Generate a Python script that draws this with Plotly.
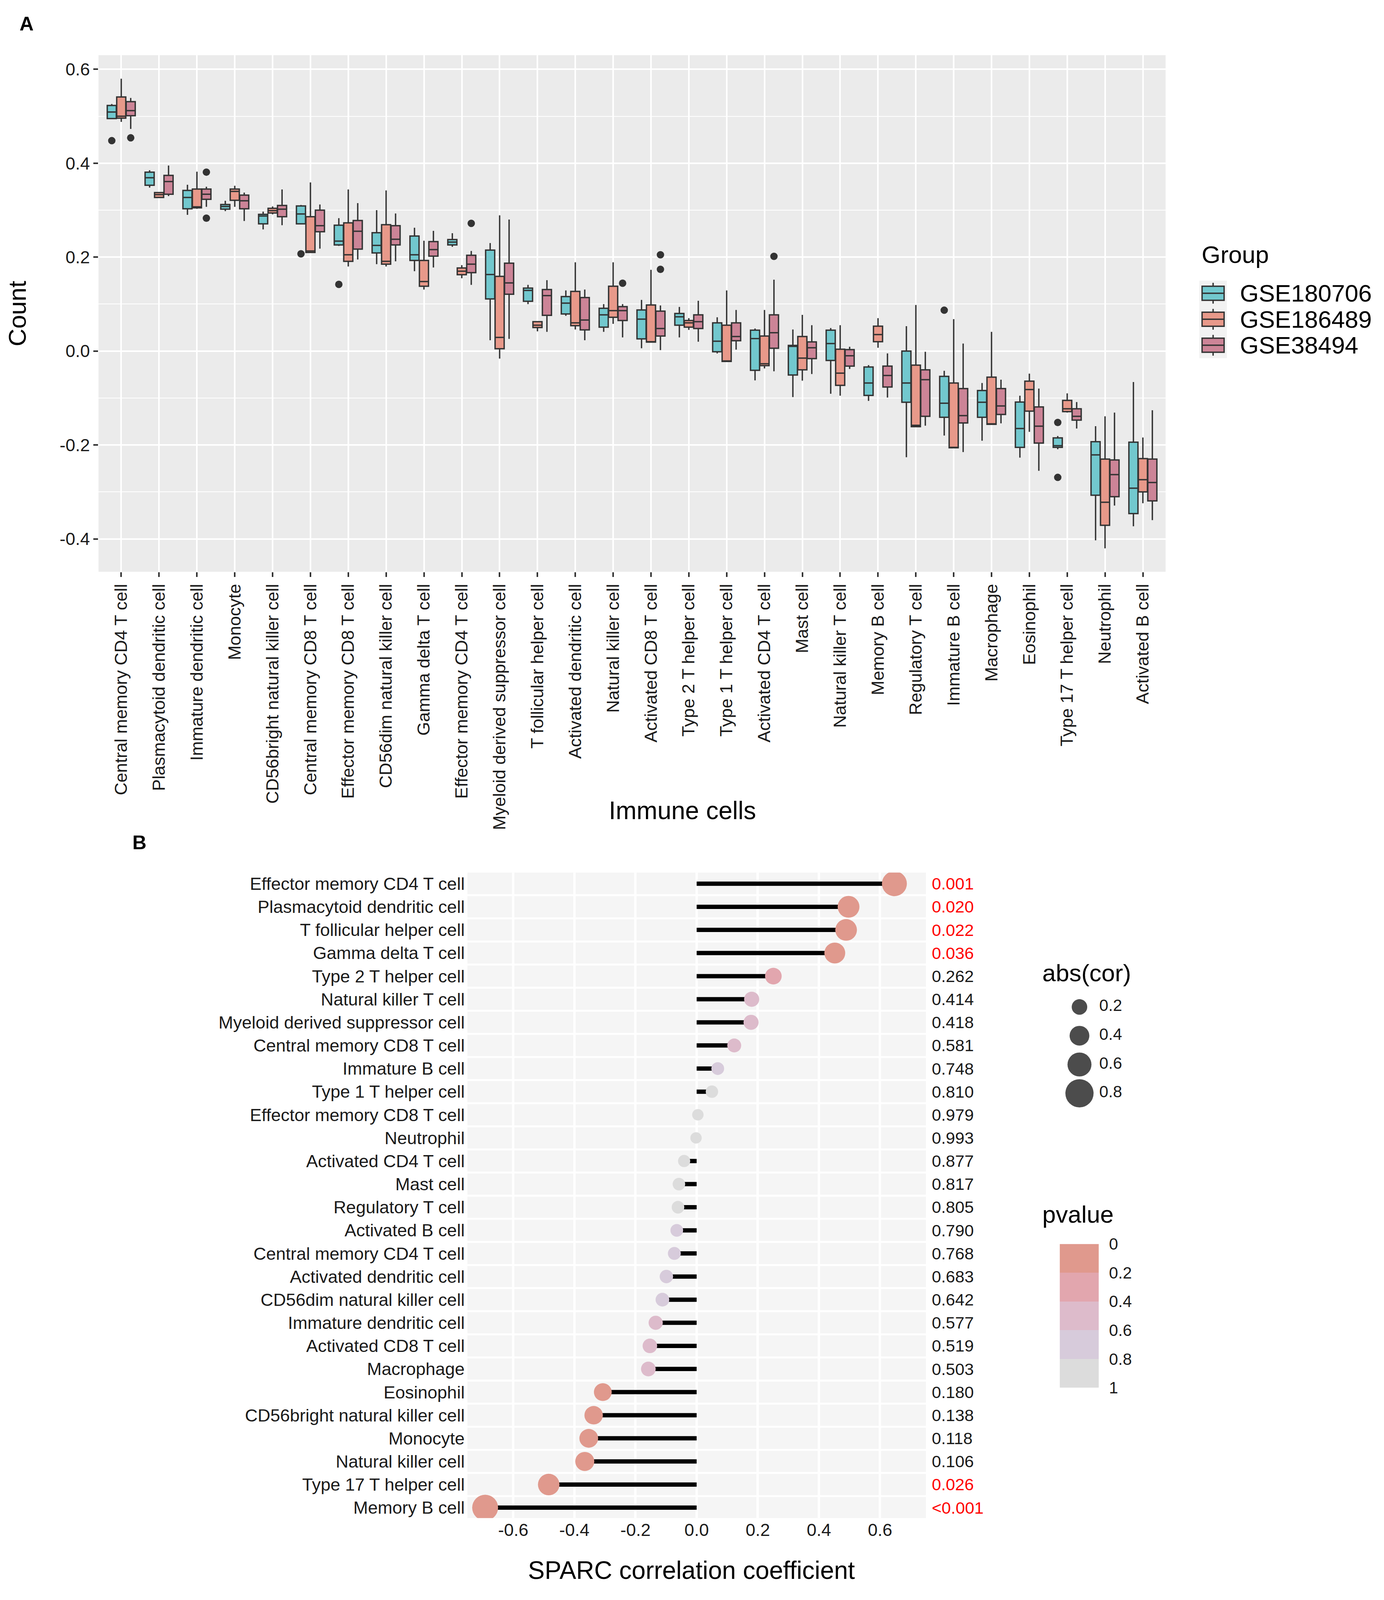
import plotly.graph_objects as go

# reference canvas (positions are fractions of it) and drawn figure size
W, H = 3544, 4242
FIG_W, FIG_H = 3520, 4080
FONT = "Liberation Sans, Arial, sans-serif"
INK = "#1a1a1a"

# ---------------- panel A data: immune cell scores per dataset
cells_a = [
    "Central memory CD4 T cell", "Plasmacytoid dendritic cell", "Immature dendritic cell",
    "Monocyte", "CD56bright natural killer cell", "Central memory CD8 T cell",
    "Effector memory CD8 T cell", "CD56dim natural killer cell", "Gamma delta T cell",
    "Effector memory CD4 T cell", "Myeloid derived suppressor cell", "T follicular helper cell",
    "Activated dendritic cell", "Natural killer cell", "Activated CD8 T cell",
    "Type 2 T helper cell", "Type 1 T helper cell", "Activated CD4 T cell", "Mast cell",
    "Natural killer T cell", "Memory B cell", "Regulatory T cell", "Immature B cell",
    "Macrophage", "Eosinophil", "Type 17 T helper cell", "Neutrophil", "Activated B cell",
]
groups = ["GSE180706", "GSE186489", "GSE38494"]

# GSE180706
q1_180706 = [0.495, 0.353, 0.303, 0.302, 0.271, 0.271, 0.226, 0.209, 0.193, 0.226, 0.111, 0.106, 0.079, 0.051,
             0.026, 0.055, -0.0015, -0.041, -0.051, -0.020, -0.0945, -0.109, -0.141, -0.141, -0.205, -0.205,
             -0.307, -0.346]
med_180706 = [0.509, 0.369, 0.327, 0.308, 0.2875, 0.292, 0.234, 0.225, 0.205, 0.232, 0.163, 0.129, 0.102, 0.077,
              0.068, 0.073, 0.021, 0.0265, 0.010, 0.016, -0.068, -0.068, -0.111, -0.109, -0.165, -0.2016,
              -0.221, -0.292]
q3_180706 = [0.523, 0.381, 0.342, 0.312, 0.291, 0.309, 0.268, 0.252, 0.245, 0.2375, 0.215, 0.134, 0.116, 0.091,
             0.0875, 0.080, 0.060, 0.0445, 0.012, 0.0445, -0.034, 0.0, -0.054, -0.084, -0.1086, -0.185,
             -0.193, -0.194]
lo_180706 = [0.495, 0.348, 0.290, 0.298, 0.259, 0.271, 0.224, 0.185, 0.170, 0.222, 0.023, 0.100, 0.075, 0.041,
             0.006, 0.029, -0.005, -0.0625, -0.098, -0.091, -0.106, -0.226, -0.180, -0.191, -0.227, -0.209,
             -0.403, -0.373]
hi_180706 = [0.526, 0.385, 0.354, 0.320, 0.297, 0.311, 0.283, 0.300, 0.2625, 0.251, 0.230, 0.141, 0.129, 0.100,
             0.109, 0.094, 0.072, 0.048, 0.046, 0.049, -0.030, 0.053, -0.042, -0.068, -0.095, -0.181,
             -0.160, -0.066]
out_cat_180706 = [1, 6, 7, 23, 26, 26]
out_val_180706 = [0.448, 0.207, 0.142, 0.087, -0.152, -0.269]

# GSE186489
q1_186489 = [0.496, 0.327, 0.305, 0.321, 0.294, 0.210, 0.191, 0.185, 0.138, 0.1625, 0.005, 0.050, 0.054, 0.072,
             0.019, 0.051, -0.022, -0.031, -0.040, -0.073, 0.020, -0.161, -0.206, -0.156, -0.128, -0.129,
             -0.371, -0.300]
med_186489 = [0.500, 0.333, 0.307, 0.340, 0.299, 0.213, 0.205, 0.191, 0.148, 0.170, 0.029, 0.055, 0.060, 0.086,
              0.020, 0.060, -0.021, -0.027, -0.015, -0.047, 0.035, -0.158, -0.205, -0.155, -0.082, -0.123,
              -0.322, -0.274]
q3_186489 = [0.541, 0.3375, 0.345, 0.345, 0.304, 0.286, 0.273, 0.269, 0.193, 0.177, 0.159, 0.0625, 0.127, 0.138,
             0.098, 0.065, 0.055, 0.032, 0.031, 0.004, 0.053, -0.030, -0.068, -0.0555, -0.064, -0.105,
             -0.230, -0.229]
lo_186489 = [0.488, 0.326, 0.303, 0.307, 0.291, 0.209, 0.180, 0.180, 0.131, 0.155, -0.016, 0.042, 0.046, 0.058,
             0.018, 0.045, -0.023, -0.037, -0.063, -0.095, 0.007, -0.1625, -0.207, -0.157, -0.172, -0.131,
             -0.420, -0.324]
hi_186489 = [0.580, 0.339, 0.382, 0.352, 0.308, 0.359, 0.344, 0.342, 0.235, 0.183, 0.289, 0.064, 0.189, 0.189,
             0.173, 0.070, 0.129, 0.0875, 0.077, 0.055, 0.070, 0.098, 0.068, 0.041, -0.048, -0.090,
             -0.139, -0.184]
out_cat_186489 = []
out_val_186489 = []

# GSE38494
q1_38494 = [0.501, 0.334, 0.323, 0.303, 0.286, 0.254, 0.217, 0.226, 0.202, 0.167, 0.121, 0.076, 0.045, 0.065,
            0.032, 0.048, 0.022, 0.006, -0.016, -0.032, -0.0766, -0.139, -0.153, -0.135, -0.196, -0.147,
            -0.310, -0.319]
med_38494 = [0.512, 0.361, 0.334, 0.320, 0.302, 0.267, 0.255, 0.238, 0.216, 0.185, 0.145, 0.118, 0.066, 0.086,
             0.048, 0.0625, 0.031, 0.039, 0.007, -0.010, -0.052, -0.061, -0.1375, -0.117, -0.160, -0.139,
             -0.263, -0.280]
q3_38494 = [0.531, 0.374, 0.345, 0.332, 0.310, 0.300, 0.278, 0.267, 0.233, 0.204, 0.187, 0.131, 0.114, 0.0945,
            0.085, 0.077, 0.060, 0.077, 0.0195, 0.003, -0.032, -0.040, -0.080, -0.080, -0.119, -0.123,
            -0.232, -0.230]
lo_38494 = [0.473, 0.330, 0.307, 0.277, 0.268, 0.218, 0.195, 0.191, 0.178, 0.141, 0.026, 0.041, 0.023, 0.029,
            0.002, 0.020, 0.003, -0.043, -0.049, -0.038, -0.099, -0.159, -0.215, -0.154, -0.255, -0.165,
            -0.329, -0.360]
hi_38494 = [0.539, 0.395, 0.350, 0.3375, 0.344, 0.312, 0.315, 0.293, 0.256, 0.213, 0.280, 0.151, 0.131, 0.100,
            0.097, 0.107, 0.0875, 0.152, 0.055, 0.009, -0.005, -0.0015, 0.016, -0.061, -0.080, -0.1086,
            -0.131, -0.126]
out_cat_38494 = [1, 3, 3, 10, 14, 15, 15, 18]
out_val_38494 = [0.454, 0.381, 0.283, 0.272, 0.1445, 0.205, 0.174, 0.2016]

y_ticks_a = [-0.4, -0.2, 0.0, 0.2, 0.4, 0.6]

# ---------------- panel B data: SPARC correlation
cells_b = [
    "Effector memory CD4 T cell", "Plasmacytoid dendritic cell", "T follicular helper cell",
    "Gamma delta T cell", "Type 2 T helper cell", "Natural killer T cell",
    "Myeloid derived suppressor cell", "Central memory CD8 T cell", "Immature B cell",
    "Type 1 T helper cell", "Effector memory CD8 T cell", "Neutrophil", "Activated CD4 T cell",
    "Mast cell", "Regulatory T cell", "Activated B cell", "Central memory CD4 T cell",
    "Activated dendritic cell", "CD56dim natural killer cell", "Immature dendritic cell",
    "Activated CD8 T cell", "Macrophage", "Eosinophil", "CD56bright natural killer cell",
    "Monocyte", "Natural killer cell", "Type 17 T helper cell", "Memory B cell",
]
cor_b = [0.647, 0.497, 0.489, 0.452, 0.251, 0.180, 0.178, 0.123, 0.069, 0.050, 0.004, -0.002, -0.041,
         -0.058, -0.061, -0.065, -0.073, -0.099, -0.112, -0.134, -0.153, -0.158, -0.307, -0.337,
         -0.353, -0.366, -0.484, -0.692]
pval_b = [0.001, 0.020, 0.022, 0.036, 0.262, 0.414, 0.418, 0.581, 0.748, 0.810, 0.979, 0.993, 0.877,
          0.817, 0.805, 0.790, 0.768, 0.683, 0.642, 0.577, 0.519, 0.503, 0.180, 0.138, 0.118, 0.106,
          0.026, 0.0005]
pval_text_b = ["0.001", "0.020", "0.022", "0.036", "0.262", "0.414", "0.418", "0.581", "0.748", "0.810",
               "0.979", "0.993", "0.877", "0.817", "0.805", "0.790", "0.768", "0.683", "0.642", "0.577",
               "0.519", "0.503", "0.180", "0.138", "0.118", "0.106", "0.026", "<0.001"]
x_ticks_b = [-0.6, -0.4, -0.2, 0.0, 0.2, 0.4, 0.6]
size_legend_vals = [0.2, 0.4, 0.6, 0.8]
pvalue_breaks = [0, 0.2, 0.4, 0.6, 0.8, 1.0]

# ---------------- styles
box_colors = {"GSE180706": "#72C8CE", "GSE186489": "#E8998A", "GSE38494": "#CC8497"}
box_offset = {"GSE180706": -0.25, "GSE186489": 0.0, "GSE38494": 0.25}
step_colors = ["#E0998D", "#E2A6AE", "#DDBBCB", "#D7CBDB", "#DCDCDC"]
step_scale = []
for k, c in enumerate(step_colors):
    step_scale.append([pvalue_breaks[k], c])
    step_scale.append([pvalue_breaks[k + 1], c])


def px_x(p):
    return p / W


def px_y(p):
    return 1 - p / H


def dot_size(a):
    return 29 + 54 * a


stats = {
    "GSE180706": (q1_180706, med_180706, q3_180706, lo_180706, hi_180706, out_cat_180706, out_val_180706),
    "GSE186489": (q1_186489, med_186489, q3_186489, lo_186489, hi_186489, out_cat_186489, out_val_186489),
    "GSE38494": (q1_38494, med_38494, q3_38494, lo_38494, hi_38494, out_cat_38494, out_val_38494),
}

fig = go.Figure()
idx_a = list(range(1, len(cells_a) + 1))
box_line = dict(color="#333333", width=3.5)

for g in groups:
    q1, med, q3, lo, hi, oc, ov = stats[g]
    fig.add_trace(go.Box(
        x=[i + box_offset[g] for i in idx_a], q1=q1, median=med, q3=q3,
        lowerfence=lo, upperfence=hi, width=0.24, whiskerwidth=0,
        fillcolor=box_colors[g], line=box_line,
        boxpoints=False, name=g, xaxis="x", yaxis="y", hoverinfo="skip", showlegend=False,
    ))
for g in groups:
    q1, med, q3, lo, hi, oc, ov = stats[g]
    if oc:
        fig.add_trace(go.Scatter(
            x=[c + box_offset[g] for c in oc], y=ov, mode="markers",
            marker=dict(color="#333333", size=19), showlegend=False, xaxis="x", yaxis="y",
        ))

# Group legend keys (small box glyphs, one per dataset)
for k, g in enumerate(groups):
    fig.add_trace(go.Box(
        x=[0.5], q1=[k - 0.27], median=[k], q3=[k + 0.27], lowerfence=[k - 0.4], upperfence=[k + 0.4],
        width=0.8, whiskerwidth=0, fillcolor=box_colors[g], line=box_line, boxpoints=False,
        xaxis="x5", yaxis="y5", hoverinfo="skip", showlegend=False,
    ))

# lollipop segments
seg_x, seg_y = [], []
rows_b = list(range(1, len(cells_b) + 1))
for r, c in zip(rows_b, cor_b):
    seg_x += [0, c, None]
    seg_y += [r, r, None]
fig.add_trace(go.Scatter(x=seg_x, y=seg_y, mode="lines", line=dict(color="black", width=11),
                         showlegend=False, xaxis="x2", yaxis="y2", hoverinfo="skip"))
fig.add_trace(go.Scatter(
    x=cor_b, y=rows_b, mode="markers", showlegend=False, xaxis="x2", yaxis="y2",
    marker=dict(size=[dot_size(abs(c)) for c in cor_b], color=pval_b, colorscale=step_scale,
                cmin=0, cmax=1, showscale=False, line=dict(width=0), opacity=1),
))

# size legend (abs(cor))
fig.add_trace(go.Scatter(
    x=[0.375] * len(size_legend_vals), y=list(range(len(size_legend_vals))), mode="markers",
    marker=dict(size=[dot_size(v) for v in size_legend_vals], color="black", line=dict(width=0)),
    showlegend=False, xaxis="x3", yaxis="y3", hoverinfo="skip",
))
fig.add_trace(go.Scatter(
    x=[0.63] * len(size_legend_vals), y=list(range(len(size_legend_vals))), mode="text",
    text=[f"{v:.1f}" for v in size_legend_vals], textposition="middle right",
    textfont=dict(size=42, color=INK, family=FONT), showlegend=False, xaxis="x3", yaxis="y3",
    hoverinfo="skip",
))

# pvalue colour legend
mids = [(pvalue_breaks[k] + pvalue_breaks[k + 1]) / 2 for k in range(len(pvalue_breaks) - 1)]
fig.add_trace(go.Heatmap(
    x=[0, 1], y=pvalue_breaks, z=[[m] for m in mids], zmin=0, zmax=1, colorscale=step_scale,
    showscale=False, xaxis="x4", yaxis="y4", hoverinfo="skip",
))

tick_font = dict(size=45, color=INK, family=FONT)

shapes = [
    dict(type="rect", xref="x domain", yref="y domain", x0=0, x1=1, y0=0, y1=1,
         fillcolor="#EBEBEB", line=dict(width=0), layer="below"),
    dict(type="rect", xref="x2 domain", yref="y2 domain", x0=0, x1=1, y0=0, y1=1,
         fillcolor="#F5F5F5", line=dict(width=0), layer="below"),
    dict(type="rect", xref="x5 domain", yref="y5 domain", x0=0, x1=1, y0=0, y1=1,
         fillcolor="#F2F2F2", line=dict(width=0), layer="below"),
]
for r in rows_b[:-1]:
    shapes.append(dict(type="line", xref="x2 domain", yref="y2", x0=0, x1=1, y0=r + 0.5, y1=r + 0.5,
                       line=dict(color="white", width=5), layer="below"))

annotations = [
    dict(text="<b>A</b>", x=px_x(60), y=px_y(32), font=dict(size=50, color="black")),
    dict(text="<b>B</b>", x=px_x(351), y=px_y(2236), font=dict(size=50, color="black")),
    dict(text="Count", x=px_x(36), y=px_y(811), textangle=-90, font=dict(size=63, color="black")),
    dict(text="Immune cells", x=px_x(1751), y=px_y(2150), font=dict(size=64, color="black")),
    dict(text="SPARC correlation coefficient", x=px_x(1775), y=px_y(4196), font=dict(size=64, color="black")),
    dict(text="Group", x=px_x(3088), y=px_y(653), xanchor="left", font=dict(size=62, color="black")),
    dict(text="abs(cor)", x=px_x(2677), y=px_y(2587), xanchor="left", font=dict(size=62, color="black")),
    dict(text="pvalue", x=px_x(2677), y=px_y(3237), xanchor="left", font=dict(size=62, color="black")),
]
for k, g in enumerate(groups):
    annotations.append(dict(text=g, x=px_x(3187), xanchor="left", y=px_y(757 + 70 * k),
                            font=dict(size=62, color="black")))
for a in annotations:
    a.setdefault("xanchor", "center")
    a.update(xref="paper", yref="paper", yanchor="middle", showarrow=False)
    a["font"]["family"] = FONT
for r, p, t in zip(rows_b, pval_b, pval_text_b):
    annotations.append(dict(text=t, xref="paper", yref="y2", x=px_x(2392), y=r, xanchor="left",
                            yanchor="middle", showarrow=False,
                            font=dict(size=43, family=FONT, color="red" if p < 0.05 else INK)))

fig.update_layout(
    width=FIG_W, height=FIG_H, margin=dict(l=0, r=0, t=0, b=0),
    paper_bgcolor="white", plot_bgcolor="rgba(0,0,0,0)",
    font=dict(family=FONT, color=INK),
    showlegend=False,
    xaxis=dict(domain=[px_x(246), px_x(2997)], range=[0.4, 28.6], anchor="y",
               tickmode="array", tickvals=idx_a, ticktext=cells_a, tickangle=-90,
               ticks="outside", ticklen=12, tickwidth=4, tickcolor="#333333",
               showgrid=True, gridcolor="white", gridwidth=4, zeroline=False, tickfont=tick_font),
    yaxis=dict(domain=[px_y(1507), px_y(116)], range=[-0.47, 0.63], anchor="x",
               tickmode="array", tickvals=y_ticks_a, ticktext=[f"{v:.1f}" for v in y_ticks_a],
               ticks="outside", ticklen=12, tickwidth=4, tickcolor="#333333",
               showgrid=True, gridcolor="white", gridwidth=4, zeroline=False, tickfont=tick_font,
               minor=dict(tickmode="linear", tick0=0.1, dtick=0.2, showgrid=True,
                          gridcolor="white", gridwidth=2)),
    xaxis2=dict(domain=[px_x(1197), px_x(2379)], range=[-0.75, 0.75], anchor="y2",
                tickmode="array", tickvals=x_ticks_b, ticktext=[f"{v:.1f}" for v in x_ticks_b],
                ticks="", showgrid=True, gridcolor="white", gridwidth=6, zeroline=False,
                tickfont=tick_font),
    yaxis2=dict(domain=[px_y(4055), px_y(2317)], range=[28.45, 0.52], anchor="x2",
                tickmode="array", tickvals=rows_b, ticktext=cells_b, ticks="",
                showgrid=False, zeroline=False, tickfont=tick_font, ticklabelstandoff=6),
    xaxis3=dict(domain=[px_x(2700), px_x(2900)], range=[0, 1], anchor="y3", visible=False),
    yaxis3=dict(domain=[px_y(2950), px_y(2640)], range=[3.5, -0.5], anchor="x3", visible=False),
    xaxis4=dict(domain=[px_x(2724), px_x(2825)], range=[0, 1], anchor="y4", visible=False),
    yaxis4=dict(domain=[px_y(3704), px_y(3317)], range=[1, 0], anchor="x4", side="right",
                tickmode="array", tickvals=pvalue_breaks,
                ticktext=["0", "0.2", "0.4", "0.6", "0.8", "1"], ticks="", showgrid=False,
                zeroline=False, showline=False, ticklabelstandoff=25,
                tickfont=dict(size=42, color=INK, family=FONT)),
    xaxis5=dict(domain=[px_x(3084), px_x(3155)], range=[0, 1], anchor="y5", visible=False),
    yaxis5=dict(domain=[px_y(932), px_y(723)], range=[2.5, -0.486], anchor="x5", visible=False),
    shapes=shapes,
    annotations=annotations,
)

fig.write_html("out.html")
